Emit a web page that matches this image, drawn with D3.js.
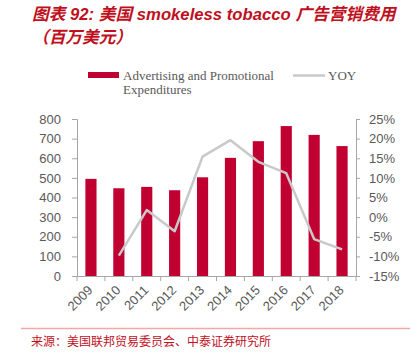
<!DOCTYPE html>
<html><head><meta charset="utf-8">
<script src="https://cdn.jsdelivr.net/npm/d3@7"></script>
<style>
html,body{margin:0;padding:0;background:#fff;}
svg{display:block;}
</style></head>
<body>
<svg id="c" width="412" height="352"></svg>
<script>
const years = ["2009","2010","2011","2012","2013","2014","2015","2016","2017","2018"];
const spend = [495, 447, 454, 437, 503, 602, 687, 764, 719, 662];
const yoyYears = ["2010","2011","2012","2013","2014","2015","2016","2017","2018"];
const yoy = [-9.8, 1.8, -3.6, 15.4, 19.6, 14.1, 11.2, -5.6, -8.2];
const leftTicks = [0,100,200,300,400,500,600,700,800];
const rightTicks = [-15,-10,-5,0,5,10,15,20,25];
const titleLine1 = "图表 92: 美国 smokeless tobacco 广告营销费用";
const titleLine2 = "（百万美元）";
const legendLabels = ["Advertising and Promotional", "Expenditures", "YOY"];
const source = "来源：美国联邦贸易委员会、中泰证券研究所";

const svg = d3.select("#c");
const red = "#c00030", grey = "#a6a6a6", txt = "#595959", lineCol = "#c9c9c9";
const L = 77, R = 356, T = 119, B = 276;

const x = d3.scaleBand().domain(years).range([L, R]).paddingInner(0.6).paddingOuter(0.3);
const yL = d3.scaleLinear().domain([0, 800]).range([B, T]);
const yR = d3.scaleLinear().domain([-15, 25]).range([B, T]);

// title
const tf = "'Liberation Sans','Noto Sans CJK SC',sans-serif";
svg.append("text").attr("x", 32).attr("y", 20).attr("fill", "#c0101e")
  .attr("font-family", tf).attr("font-size", 16.7).attr("font-weight", "bold").attr("font-style", "italic")
  .text(titleLine1);
svg.append("text").attr("x", 32).attr("y", 43).attr("fill", "#c0101e")
  .attr("font-family", tf).attr("font-size", 16.7).attr("font-weight", "bold").attr("font-style", "italic")
  .text(titleLine2);

// legend
const lf = "'Liberation Serif','Times New Roman',serif";
svg.append("rect").attr("x", 88).attr("y", 72).attr("width", 31).attr("height", 6).attr("fill", red);
svg.append("text").attr("x", 123).attr("y", 80).attr("font-family", lf).attr("font-size", 13).attr("fill", txt).text(legendLabels[0]);
svg.append("text").attr("x", 123).attr("y", 94).attr("font-family", lf).attr("font-size", 13).attr("fill", txt).text(legendLabels[1]);
svg.append("line").attr("x1", 293).attr("x2", 325).attr("y1", 75.5).attr("y2", 75.5).attr("stroke", lineCol).attr("stroke-width", 2.5);
svg.append("text").attr("x", 328).attr("y", 80).attr("font-family", lf).attr("font-size", 13).attr("fill", txt).text(legendLabels[2]);

// bars
svg.append("g").selectAll("rect").data(years).join("rect")
  .attr("x", d => x(d)).attr("width", x.bandwidth())
  .attr("y", (d, i) => yL(spend[i])).attr("height", (d, i) => B - yL(spend[i]))
  .attr("fill", red);

// line
const line = d3.line().x((d, i) => x(yoyYears[i]) + x.bandwidth() / 2).y(d => yR(d));
svg.append("path").datum(yoy).attr("d", line).attr("fill", "none")
  .attr("stroke", lineCol).attr("stroke-width", 2.5).attr("stroke-linejoin", "round");

// axes
const af = "'Liberation Sans',Arial,sans-serif";
const gl = svg.append("g").attr("transform", `translate(${L},0)`)
  .call(d3.axisLeft(yL).tickValues(leftTicks).tickSize(5).tickPadding(11));
const gr = svg.append("g").attr("transform", `translate(${R},0)`)
  .call(d3.axisRight(yR).tickValues(rightTicks).tickSize(4).tickPadding(9).tickFormat(d => d + "%"));
[gl, gr].forEach(g => {
  g.select(".domain").attr("stroke", grey);
  g.selectAll(".tick line").attr("stroke", grey);
  g.selectAll("text").attr("fill", txt).attr("font-family", af).attr("font-size", 13);
});

// bottom axis
const step = x.step();
const bounds = d3.range(years.length + 1).map(i => L + i * step);
svg.append("line").attr("x1", L).attr("x2", R).attr("y1", B + 0.5).attr("y2", B + 0.5).attr("stroke", grey);
svg.append("g").selectAll("line").data(bounds).join("line")
  .attr("x1", d => d).attr("x2", d => d).attr("y1", B).attr("y2", B + 5).attr("stroke", grey);
svg.append("g").selectAll("text").data(years).join("text")
  .attr("transform", d => `translate(${x(d) + x.bandwidth() / 2 + 2.5},${B + 15}) rotate(-45)`)
  .attr("text-anchor", "end").attr("font-family", af).attr("font-size", 13).attr("fill", txt)
  .text(d => d);

// footer
svg.append("line").attr("x1", 21).attr("x2", 410).attr("y1", 328.5).attr("y2", 328.5).attr("stroke", "#efa9ad").attr("stroke-width", 1.3);
svg.append("text").attr("x", 31).attr("y", 346).attr("font-family", "'Noto Sans CJK SC',sans-serif")
  .attr("font-size", 12).attr("fill", "#c0101e").text(source);
</script>
</body></html>
